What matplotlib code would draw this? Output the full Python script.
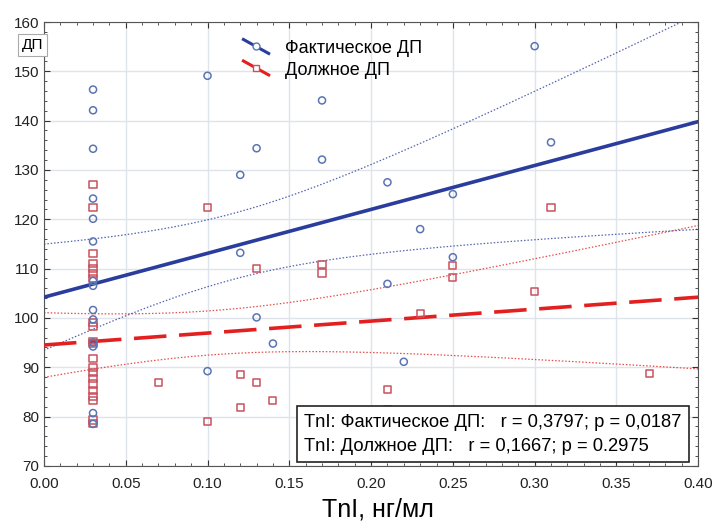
import numpy as np
import matplotlib
matplotlib.use("Agg")
import matplotlib.pyplot as plt
from matplotlib.lines import Line2D
from matplotlib.legend_handler import HandlerLine2D
from matplotlib.ticker import MultipleLocator

plt.rcParams['font.family'] = ['Liberation Sans', 'DejaVu Sans']

# Фактическое ДП (blue circles)
fact_x = [0.03] * 14 + [0.10, 0.10, 0.12, 0.12, 0.13, 0.13, 0.14, 0.17, 0.17,
                        0.21, 0.21, 0.22, 0.23, 0.25, 0.25, 0.30, 0.31]
fact_y = [146.3, 142.1, 134.3, 124.2, 120.1, 115.5, 107.5, 106.5, 101.6, 99.7,
          95.0, 94.2, 80.7, 78.5,
          149.1, 89.2, 129.0, 113.2, 134.4, 100.1, 94.8, 144.1, 132.1,
          127.5, 106.9, 91.1, 118.0, 125.1, 112.3, 155.1, 135.6]

# Должное ДП (red squares)
norm_x = [0.03] * 21 + [0.07, 0.10, 0.10, 0.12, 0.12, 0.13, 0.13, 0.14, 0.17, 0.17,
                        0.21, 0.21, 0.23, 0.25, 0.25, 0.30, 0.31, 0.37]
norm_y = [127.0, 122.3, 113.0, 111.0, 110.0, 109.0, 108.0, 99.0, 98.3, 95.3,
          94.8, 91.8, 90.0, 89.0, 87.8, 86.6, 85.2, 84.0, 83.2, 79.3, 78.6,
          86.9, 122.3, 79.0, 88.6, 81.9, 110.0, 86.9, 83.3, 110.9, 109.1,
          85.5, 81.5, 100.8, 110.7, 108.1, 105.3, 122.3, 88.7]

# regression lines (value at x=0 and x=0.4)
fit_ends_x = [0.0, 0.40]
fact_fit = [104.2, 139.8]
norm_fit = [94.5, 104.2]
# sample sizes implied by the reported r and p (some points overlap)
fact_n = 38
norm_n = 41

stats_text = ("TnI: Фактическое ДП:   r = 0,3797; p = 0,0187\n"
              "TnI: Должное ДП:   r = 0,1667; p = 0.2975")

BLUE = '#2a3d9c'
BLUE_PT = '#5a74b4'
RED = '#e3201f'
RED_PT = '#c9515e'


def conf_band(x, y, line, n_total, xs):
    # 95% band around the given straight line
    x = np.asarray(x)
    y = np.asarray(y)
    b = line[0]
    k = (line[1] - line[0]) / (fit_ends_x[1] - fit_ends_x[0])
    n = len(x)
    resid = y - (k * x + b)
    s = np.sqrt(np.sum(resid ** 2) / (n - 2))
    sxx = np.sum((x - x.mean()) ** 2) * n_total / n
    half = 2.02 * s * np.sqrt(1.0 / n_total + (xs - x.mean()) ** 2 / sxx)
    yfit = k * xs + b
    return yfit - half, yfit + half


class SlantHandler(HandlerLine2D):
    def create_artists(self, legend, orig_handle, xdescent, ydescent,
                       width, height, fontsize, trans):
        xs = np.array([-xdescent, width - xdescent])
        ys = np.array([height - ydescent + 1, -ydescent])
        line = Line2D(xs, ys, color=orig_handle.get_color(), lw=2.2)
        mk = Line2D([xs.mean()], [ys.mean()], marker=orig_handle.get_marker(),
                    markersize=5, markerfacecolor='white',
                    markeredgecolor=orig_handle.get_markeredgecolor(), lw=0)
        line.set_transform(trans)
        mk.set_transform(trans)
        return [line, mk]


fig = plt.figure(figsize=(7.15, 5.24), dpi=100)
ax = fig.add_axes([0.0615, 0.111, 0.915, 0.847])

xs = np.linspace(0, 0.40, 200)
for x, y, line, n_tot, col, ls in [(fact_x, fact_y, fact_fit, fact_n, BLUE, '-'),
                                   (norm_x, norm_y, norm_fit, norm_n, RED, (0, (9, 3.5)))]:
    lo, hi = conf_band(x, y, line, n_tot, xs)
    ax.plot(xs, lo, color=col, lw=0.9, ls=(0, (1.2, 1.5)), alpha=0.8, zorder=2)
    ax.plot(xs, hi, color=col, lw=0.9, ls=(0, (1.2, 1.5)), alpha=0.8, zorder=2)
    ax.plot(fit_ends_x, line, color=col, lw=2.6, ls=ls, zorder=3)

ax.scatter(norm_x, norm_y, marker='s', s=26, facecolors='none',
           edgecolors=RED_PT, linewidths=1.1, zorder=4)
ax.scatter(fact_x, fact_y, marker='o', s=26, facecolors='none',
           edgecolors=BLUE_PT, linewidths=1.1, zorder=4)

ax.set_xlim(0, 0.40)
ax.set_ylim(70, 160)
ax.xaxis.set_major_locator(MultipleLocator(0.05))
ax.xaxis.set_minor_locator(MultipleLocator(0.01))
ax.yaxis.set_major_locator(MultipleLocator(10))
ax.yaxis.set_minor_locator(MultipleLocator(2))
ax.xaxis.set_major_formatter(plt.FuncFormatter(lambda v, p: f"{v:.2f}"))
ax.tick_params(which='both', direction='in', top=True, right=True,
               labelsize=11, colors='#333333', labelcolor='#222222')
ax.tick_params(which='major', length=4)
ax.tick_params(which='minor', length=2)
ax.tick_params(axis='x', which='major', pad=8)
ax.grid(True, which='major', color='#dfe3ec', lw=1)
ax.set_axisbelow(True)
for sp in ax.spines.values():
    sp.set_color('#555555')

fig.text(0.528, 0.027, "TnI, нг/мл", fontsize=18, ha='center', va='center')

fig.text(0.045, 0.914, "ДП", fontsize=11, ha='center', va='center',
         bbox=dict(boxstyle='square,pad=0.25', fc='white', ec='#aaaaaa', lw=0.8))

h1 = Line2D([], [], color=BLUE, marker='o', markeredgecolor=BLUE_PT)
h2 = Line2D([], [], color=RED, marker='s', markeredgecolor=RED_PT)
ax.legend([h1, h2], ["Фактическое ДП", "Должное ДП"],
          handler_map={Line2D: SlantHandler()}, loc='upper left',
          bbox_to_anchor=(0.28, 0.995), frameon=False, fontsize=13,
          handlelength=1.4, handletextpad=0.9, labelspacing=0.25)

ax.text(0.398, 0.025, stats_text, transform=ax.transAxes, fontsize=13.2,
        ha='left', va='bottom', linespacing=1.55, zorder=6,
        bbox=dict(boxstyle='square,pad=0.4', fc='white', ec='#222222', lw=1.2))

fig.savefig("out.png", dpi=100)
